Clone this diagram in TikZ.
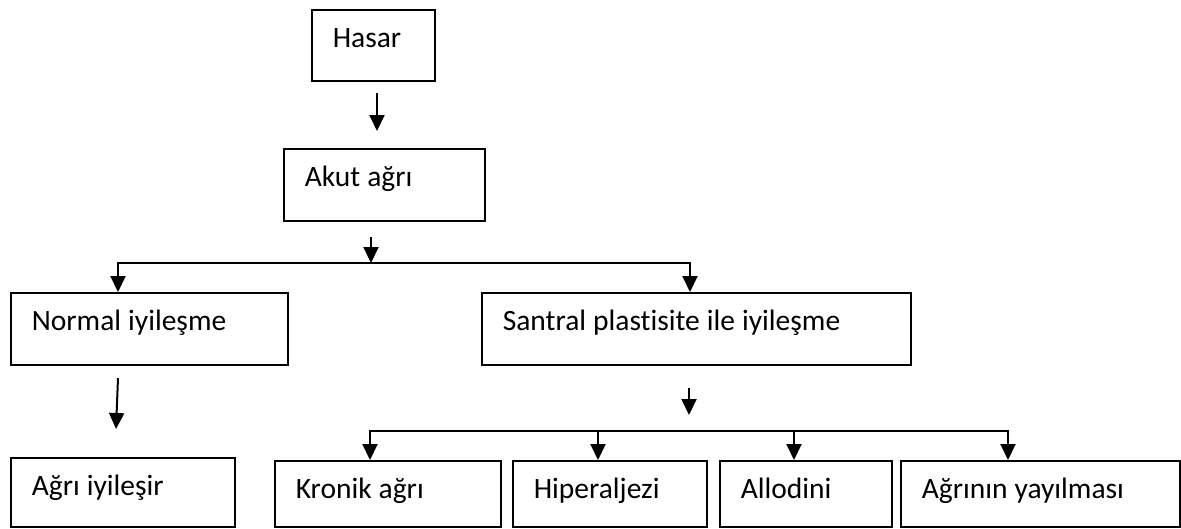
\documentclass[tikz,border=0pt]{standalone}
\usepackage{fontspec}
\setmainfont{Carlito}[RawFeature={-liga;-clig;-calt;-dlig}]
\usetikzlibrary{arrows.meta}
\begin{document}
\begin{tikzpicture}[x=1pt,y=-1pt,
  box/.style={draw, line width=1.6pt, anchor=north west, inner xsep=21pt, inner ysep=0pt,
    align=left, text height=38pt, font=\fontsize{29.5}{35}\selectfont,
    execute at begin node={\spaceskip=7pt\relax}},
  arr/.style={line width=2pt, -{Triangle[length=16pt,width=15pt]}},
  ln/.style={line width=2pt}]
\useasboundingbox (0,0) rectangle (1181,528);
\node[box, text width=81pt,  text depth=33pt] (hasar) at (311,9) {Hasar};
\node[box, text width=159pt, text depth=34pt] (akut) at (283,148) {Akut ağrı};
\node[box, text width=235pt, text depth=34pt] (normal) at (10,292) {Normal iyileşme};
\node[box, text width=387pt, text depth=34pt] (santral) at (481,292) {Santral plasti\kern0ptsite ile iyileşme};
\node[box, text width=182pt, text depth=31pt] (iyilesir) at (10,457) {Ağrı iyileşir};
\node[box, text width=184pt, text depth=28pt] (kronik) at (274,460) {Kronik ağrı};
\node[box, text width=152pt, text depth=28pt] (hiper) at (512,460) {Hiperaljezi};
\node[box, text width=130pt, text depth=28pt] (allo) at (719,460) {Allodini};
\node[box, text width=237pt, text depth=28pt] (yayil) at (900,460) {Ağrının yayılması};
% free arrows
\coordinate (h1) at (377,93);
\coordinate (h2) at (377,131);
\draw[arr] (h1) -- (h2);
\coordinate (a1) at (371,237);
\coordinate (a2) at (371,263);
\draw[arr] (a1) -- (a2);
\draw[arr] (a2) -| ([xshift=108pt]normal.north west);
\draw[arr] (a2) -| ([xshift=209pt]santral.north west);
\coordinate (n1) at (118,378);
\coordinate (n2) at (116,429);
\draw[arr] (n1) -- (n2);
\coordinate (s1) at (689,388);
\coordinate (s2) at (689,415);
\draw[arr] (s1) -- (s2);
\coordinate (b) at (598,431);
\draw[arr] (b) -| ([xshift=96pt]kronik.north west);
\draw[arr] (b) -- ([xshift=86pt]hiper.north west);
\draw[arr] (b) -| ([xshift=75pt]allo.north west);
\draw[arr] (b) -| ([xshift=108pt]yayil.north west);
\end{tikzpicture}
\end{document}
